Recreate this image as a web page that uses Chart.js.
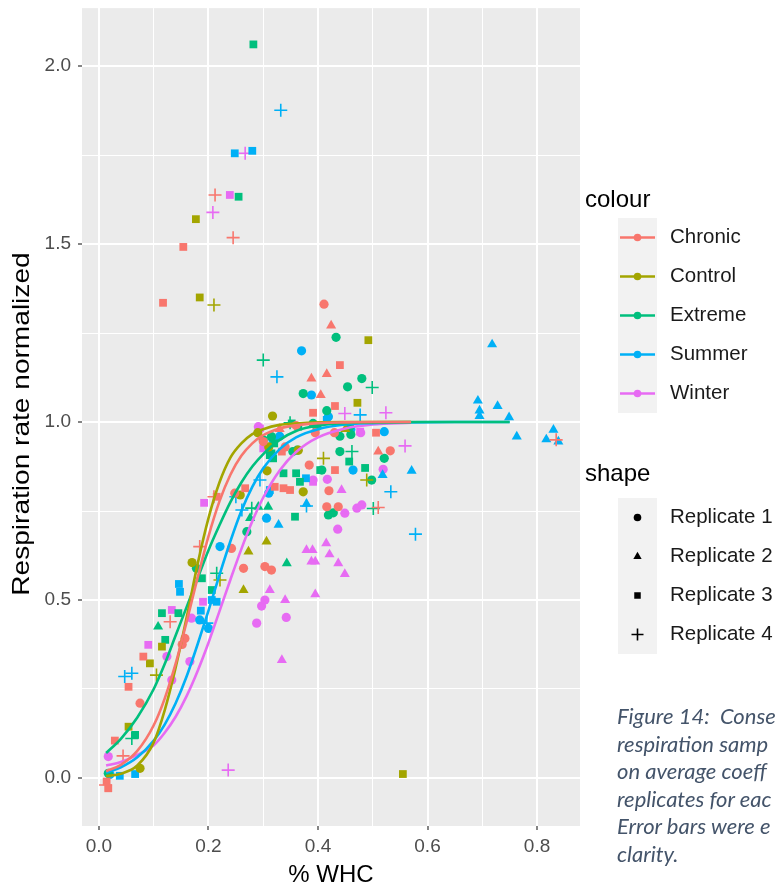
<!DOCTYPE html>
<html>
<head>
<meta charset="utf-8">
<title>Respiration rate vs % WHC</title>
<script src="https://cdn.jsdelivr.net/npm/chart.js"></script>
<style>
  body { margin: 0; background: #fff; }
  #wrap { position: relative; width: 778px; height: 894px; overflow: hidden; }
  #caption {
    position: absolute; left: 617px; top: 702px; width: 161px;
    overflow: hidden; white-space: nowrap;
    font-family: Lato, "Open Sans", sans-serif; font-style: italic;
    font-size: 22px; line-height: 27.5px; color: #44546A;
  }
</style>
</head>
<body>
<div id="wrap">
  <canvas id="chart" width="778" height="894"></canvas>
  <div id="caption">Figure 14:&nbsp; Conse<br>respiration samp<br>on average coeff<br>replicates for eac<br>Error bars were e<br>clarity.</div>
</div>
<script>
// treatment groups and their ggplot hue colours
const groups = ['Chronic', 'Control', 'Extreme', 'Summer', 'Winter'];
const groupColours = ['#F8766D', '#A3A500', '#00BF7D', '#00B0F6', '#E76BF3'];
const replicates = ['Replicate 1', 'Replicate 2', 'Replicate 3', 'Replicate 4'];
const repStyles = ['circle', 'triangle', 'rect', 'cross'];
const repRadius = [4.6, 5.8, 5.5, 6.5];

// axis breaks
const xBreaks = [0, 0.2, 0.4, 0.6, 0.8];
const xLabels = ['0.0', '0.2', '0.4', '0.6', '0.8'];
const xMinor = [0.1, 0.3, 0.5, 0.7];
const yBreaks = [0, 0.5, 1, 1.5, 2];
const yLabels = ['0.0', '0.5', '1.0', '1.5', '2.0'];
const yMinor = [0.25, 0.75, 1.25, 1.75];

// measurements: [% WHC, respiration rate normalized, replicate]
const chronic = [
  [0.411,1.331,1],[0.075,0.21,1],[0.157,0.392,1],[0.152,0.375,1],[0.242,0.645,1],[0.264,0.589,1],
  [0.303,0.594,1],[0.315,0.584,1],[0.416,0.762,1],[0.437,0.762,1],[0.532,0.919,1],[0.384,0.879,1],
  [0.42,0.807,1],[0.248,0.80,1],[0.300,0.945,1],[0.36,0.99,1],[0.395,0.97,1],[0.34,0.93,1],
  [0.43,0.97,1],
  [0.424,1.271,2],[0.388,1.122,2],[0.416,1.135,2],[0.405,1.076,2],[0.51,0.917,2],[0.33,0.98,2],
  [0.117,1.335,3],[0.154,1.492,3],[0.017,-0.029,3],[0.014,-0.01,3],[0.029,0.105,3],[0.054,0.256,3],
  [0.081,0.341,3],[0.44,1.16,3],[0.431,1.045,3],[0.391,1.026,3],[0.506,0.97,3],[0.431,0.865,3],
  [0.337,0.814,3],[0.349,0.809,3],[0.321,0.818,3],[0.334,0.917,3],[0.267,0.814,3],[0.215,0.79,3],
  [0.212,1.638,4],[0.245,1.518,4],[0.012,-0.02,4],[0.044,0.062,4],[0.13,0.439,4],[0.184,0.65,4],
  [0.51,0.76,4],[0.835,0.95,4],[0.21,0.79,4]
];
const control = [
  [0.317,1.017,1],[0.075,0.027,1],[0.258,0.795,1],[0.307,0.863,1],[0.373,0.804,1],[0.364,0.921,1],
  [0.17,0.605,1],[0.31,0.93,1],[0.29,0.97,1],
  [0.264,0.528,2],[0.273,0.636,2],[0.306,0.664,2],[0.45,0.98,2],
  [0.184,1.35,3],[0.177,1.57,3],[0.492,1.23,3],[0.472,1.054,3],[0.054,0.144,3],[0.093,0.322,3],
  [0.115,0.369,3],[0.555,0.011,3],
  [0.21,1.329,4],[0.105,0.289,4],[0.221,0.556,4],[0.489,0.837,4],[0.41,0.898,4]
];
const extreme = [
  [0.433,1.238,1],[0.48,1.122,1],[0.454,1.099,1],[0.373,1.08,1],[0.416,1.032,1],[0.017,0.013,1],
  [0.178,0.589,1],[0.27,0.692,1],[0.419,0.739,1],[0.428,0.745,1],[0.521,0.898,1],[0.498,0.837,1],
  [0.407,0.865,1],[0.354,0.917,1],[0.362,0.921,1],[0.391,0.996,1],[0.398,0.987,1],[0.458,0.987,1],
  [0.46,0.965,1],[0.315,0.959,1],[0.44,0.917,1],[0.30,0.95,1],[0.44,0.96,1],
  [0.108,0.425,2],[0.276,0.73,2],[0.291,0.762,2],[0.343,0.603,2],[0.309,0.762,2],
  [0.282,2.061,3],[0.255,1.633,3],[0.066,0.121,3],[0.121,0.388,3],[0.115,0.463,3],[0.145,0.463,3],
  [0.188,0.561,3],[0.206,0.528,3],[0.358,0.734,3],[0.457,0.889,3],[0.486,0.871,3],[0.36,0.856,3],
  [0.337,0.856,3],[0.367,0.832,3],[0.312,0.907,3],[0.318,0.898,3],[0.404,0.865,3],[0.364,0.987,3],
  [0.352,0.996,3],[0.315,0.912,3],[0.32,0.94,3],
  [0.300,1.174,4],[0.499,1.097,4],[0.06,0.111,4],[0.215,0.575,4],[0.501,0.757,4],[0.349,0.998,4],
  [0.462,0.917,4],[0.279,0.758,4]
];
const summer = [
  [0.37,1.2,1],[0.388,1.076,1],[0.02,0.01,1],[0.184,0.444,1],[0.221,0.65,1],[0.306,0.73,1],
  [0.464,0.865,1],[0.521,0.973,1],[0.318,0.949,1],[0.419,1.015,1],[0.31,0.80,1],[0.2,0.42,1],
  [0.33,0.96,1],[0.46,0.98,1],
  [0.718,1.218,2],[0.692,1.06,2],[0.728,1.045,2],[0.695,1.032,2],[0.695,1.017,2],[0.749,1.013,2],
  [0.763,0.959,2],[0.83,0.978,2],[0.817,0.951,2],[0.839,0.945,2],[0.328,0.711,2],[0.379,0.77,2],
  [0.571,0.863,2],[0.518,0.851,2],
  [0.248,1.755,3],[0.28,1.762,3],[0.038,0.006,3],[0.066,0.011,3],[0.148,0.523,3],[0.146,0.545,3],
  [0.186,0.47,3],[0.206,0.50,3],[0.215,0.495,3],[0.312,0.809,3],[0.378,0.842,3],[0.416,1.006,3],
  [0.332,1.876,4],[0.325,1.127,4],[0.477,1.02,4],[0.047,0.285,4],[0.06,0.294,4],[0.197,0.435,4],
  [0.261,0.753,4],[0.533,0.804,4],[0.578,0.685,4],[0.379,0.764,4],[0.294,0.837,4],[0.25,0.79,4]
];
const winter = [
  [0.017,0.06,1],[0.124,0.341,1],[0.133,0.275,1],[0.169,0.449,1],[0.166,0.327,1],[0.288,0.435,1],
  [0.297,0.483,1],[0.303,0.5,1],[0.342,0.451,1],[0.449,0.744,1],[0.471,0.758,1],[0.48,0.767,1],
  [0.436,0.699,1],[0.519,0.867,1],[0.478,0.97,1],[0.417,0.839,1],[0.391,0.837,1],[0.291,0.987,1],
  [0.312,0.528,2],[0.34,0.5,2],[0.334,0.331,2],[0.379,0.64,2],[0.415,0.659,2],[0.39,0.64,2],
  [0.421,0.628,2],[0.395,0.608,2],[0.388,0.608,2],[0.437,0.603,2],[0.449,0.573,2],[0.395,0.516,2],
  [0.443,0.809,2],
  [0.239,1.638,3],[0.294,0.982,3],[0.192,0.773,3],[0.09,0.374,3],[0.133,0.472,3],[0.19,0.495,3],
  [0.477,0.973,3],[0.3,0.926,3],[0.391,0.832,3],
  [0.267,1.755,4],[0.208,1.589,4],[0.236,0.022,4],[0.449,1.024,4],[0.524,1.026,4],[0.559,0.933,4]
];

// fitted response curves, sampled along a shared WHC grid (null = outside group range)
const curveX = [0.013, 0.04, 0.07, 0.10, 0.12, 0.14, 0.16, 0.18, 0.20, 0.22, 0.24,
                0.26, 0.28, 0.30, 0.33, 0.36, 0.40, 0.45, 0.50, 0.57, 0.65, 0.75];
const chronicFit = [0.019, 0.037, 0.076, 0.148, 0.223, 0.321, 0.438, 0.562, 0.679, 0.777, 0.852,
                    0.905, 0.940, 0.963, 0.982, 0.991, 0.997, 0.999, 1.0, 1.0, null, null];
const controlFit = [0.005, 0.012, 0.035, 0.10, 0.19, 0.31, 0.45, 0.60, 0.73, 0.83, 0.90,
                    0.94, 0.966, 0.98, 0.992, 0.996, 0.999, 1.0, 1.0, 1.0, null, null];
const extremeFit = [0.07, 0.11, 0.17, 0.25, 0.32, 0.40, 0.48, 0.56, 0.64, 0.71, 0.775,
                    0.83, 0.875, 0.91, 0.95, 0.975, 0.99, 0.997, 0.999, 1.0, 1.0, 1.0];
const summerFit = [0.015, 0.03, 0.058, 0.105, 0.15, 0.21, 0.285, 0.375, 0.47, 0.57, 0.665,
                   0.75, 0.818, 0.87, 0.924, 0.957, 0.98, 0.993, 0.997, 0.999, 1.0, 1.0];
const winterFit = [0.035, 0.045, 0.065, 0.092, 0.127, 0.172, 0.23, 0.30, 0.38, 0.468, 0.557,
                   0.643, 0.721, 0.788, 0.864, 0.916, 0.957, 0.982, 0.993, 0.998, null, null];

const groupPoints = [chronic, control, extreme, summer, winter];
const groupFits = [chronicFit, controlFit, extremeFit, summerFit, winterFit];

const FONT = '"Liberation Sans", Arial, Helvetica, sans-serif';

// build datasets: one per group x replicate, then the fitted lines on top
const datasets = [];
groups.forEach((g, gi) => {
  repStyles.forEach((style, ri) => {
    const pts = groupPoints[gi].filter(p => p[2] === ri + 1).map(p => ({ x: p[0], y: p[1] }));
    datasets.push({
      label: g + ' ' + replicates[ri],
      data: pts,
      order: 1,
      pointStyle: style,
      pointRadius: repRadius[ri],
      pointBackgroundColor: groupColours[gi],
      pointBorderColor: groupColours[gi],
      pointBorderWidth: style === 'cross' ? 1.6 : 0,
      showLine: false
    });
  });
});
groups.forEach((g, gi) => {
  const line = [];
  curveX.forEach((x, i) => {
    if (groupFits[gi][i] !== null) line.push({ x: x, y: groupFits[gi][i] });
  });
  datasets.push({
    label: g + ' fit',
    data: line,
    order: 0,
    showLine: true,
    borderColor: groupColours[gi],
    borderWidth: 2.6,
    pointRadius: 0,
    cubicInterpolationMode: 'monotone'
  });
});

function near(list, v) {
  return list.some(b => Math.abs(b - v) < 1e-9);
}

// grey panel behind the grid
const panelBg = {
  id: 'panelBg',
  beforeDraw(chart) {
    const { ctx, chartArea: a } = chart;
    ctx.save();
    ctx.fillStyle = '#EBEBEB';
    ctx.fillRect(a.left, a.top, a.right - a.left, a.bottom - a.top);
    ctx.restore();
  }
};

// y axis title, a little stretched along its length
const yTitle = {
  id: 'yTitle',
  afterDraw(chart) {
    const ctx = chart.ctx;
    const a = chart.chartArea;
    ctx.save();
    ctx.translate(22, (a.top + a.bottom) / 2 + 7);
    ctx.rotate(-Math.PI / 2);
    ctx.scale(1.17, 1);
    ctx.font = '24px ' + FONT;
    ctx.fillStyle = '#000';
    ctx.textAlign = 'center';
    ctx.textBaseline = 'middle';
    ctx.fillText('Respiration rate normalized', 0, 0);
    ctx.restore();
  }
};

// two legends on the right: colour (line + point) and shape
const sideLegend = {
  id: 'sideLegend',
  afterDraw(chart) {
    const ctx = chart.ctx;
    const keyX = 618, keyW = 39, rowH = 39, textX = 670;
    const labelFont = '20.5px ' + FONT;
    ctx.save();
    ctx.textBaseline = 'middle';
    ctx.textAlign = 'left';

    ctx.fillStyle = '#000';
    ctx.font = '24px ' + FONT;
    ctx.fillText('colour', 585, 200);
    let top = 218;
    ctx.fillStyle = '#F2F2F2';
    ctx.fillRect(keyX, top, keyW, rowH * groups.length);
    groups.forEach((g, i) => {
      const cy = top + rowH * i + rowH / 2;
      ctx.strokeStyle = groupColours[i];
      ctx.lineWidth = 2.6;
      ctx.beginPath();
      ctx.moveTo(keyX + 2, cy);
      ctx.lineTo(keyX + keyW - 2, cy);
      ctx.stroke();
      ctx.fillStyle = groupColours[i];
      Chart.helpers.drawPoint(ctx, { pointStyle: 'circle', radius: 3.8, borderWidth: 0, rotation: 0 }, keyX + keyW / 2, cy);
      ctx.fillStyle = '#1A1A1A';
      ctx.font = labelFont;
      ctx.fillText(g, textX, cy);
    });

    ctx.fillStyle = '#000';
    ctx.font = '24px ' + FONT;
    ctx.fillText('shape', 585, 474);
    top = 498;
    ctx.fillStyle = '#F2F2F2';
    ctx.fillRect(keyX, top, keyW, rowH * replicates.length);
    replicates.forEach((r, i) => {
      const cy = top + rowH * i + rowH / 2;
      ctx.fillStyle = '#000';
      ctx.strokeStyle = '#000';
      ctx.lineWidth = 1.6;
      const rad = [3.8, 4.8, 4.6, 6][i];
      Chart.helpers.drawPoint(ctx, { pointStyle: repStyles[i], radius: rad, borderWidth: repStyles[i] === 'cross' ? 1.6 : 0, rotation: 0 }, keyX + keyW / 2, cy);
      ctx.fillStyle = '#1A1A1A';
      ctx.font = labelFont;
      ctx.fillText(r, textX, cy);
    });
    ctx.restore();
  }
};

new Chart(document.getElementById('chart'), {
  type: 'scatter',
  data: { datasets: datasets },
  plugins: [panelBg, yTitle, sideLegend],
  options: {
    responsive: false,
    animation: false,
    devicePixelRatio: 1,
    layout: { padding: { top: 8, right: 198, left: 0, bottom: 0 } },
    plugins: { legend: { display: false }, tooltip: { enabled: false } },
    scales: {
      x: {
        type: 'linear',
        min: -0.031,
        max: 0.8785,
        afterBuildTicks: s => { s.ticks = [...xBreaks, ...xMinor].sort((a, b) => a - b).map(v => ({ value: v })); },
        afterFit: s => { s.height = 68; s.paddingLeft = 0; s.paddingRight = 0; },
        border: { display: false },
        grid: {
          color: '#FFFFFF',
          lineWidth: c => near(xBreaks, c.tick.value) ? 2 : 1,
          drawTicks: true,
          tickLength: 4,
          tickWidth: 1.2,
          tickColor: c => near(xBreaks, c.tick.value) ? '#333333' : 'rgba(0,0,0,0)'
        },
        ticks: {
          autoSkip: false,
          maxRotation: 0,
          padding: 5,
          color: '#4D4D4D',
          font: { family: FONT, size: 19 },
          callback: v => { const i = xBreaks.findIndex(b => Math.abs(b - v) < 1e-9); return i >= 0 ? xLabels[i] : ''; }
        },
        title: { display: true, text: '% WHC', color: '#000', font: { family: FONT, size: 24 }, padding: { top: 0, bottom: 4 } }
      },
      y: {
        type: 'linear',
        min: -0.135,
        max: 2.163,
        afterBuildTicks: s => { s.ticks = [...yBreaks, ...yMinor].sort((a, b) => a - b).map(v => ({ value: v })); },
        afterFit: s => { s.width = 82; s.paddingTop = 0; s.paddingBottom = 0; },
        border: { display: false },
        grid: {
          color: '#FFFFFF',
          lineWidth: c => near(yBreaks, c.tick.value) ? 2 : 1,
          drawTicks: true,
          tickLength: 4,
          tickWidth: 1.2,
          tickColor: c => near(yBreaks, c.tick.value) ? '#333333' : 'rgba(0,0,0,0)'
        },
        ticks: {
          autoSkip: false,
          padding: 7,
          color: '#4D4D4D',
          font: { family: FONT, size: 19 },
          callback: v => { const i = yBreaks.findIndex(b => Math.abs(b - v) < 1e-9); return i >= 0 ? yLabels[i] : ''; }
        },
        title: { display: false }
      }
    }
  }
});
</script>
</body>
</html>
